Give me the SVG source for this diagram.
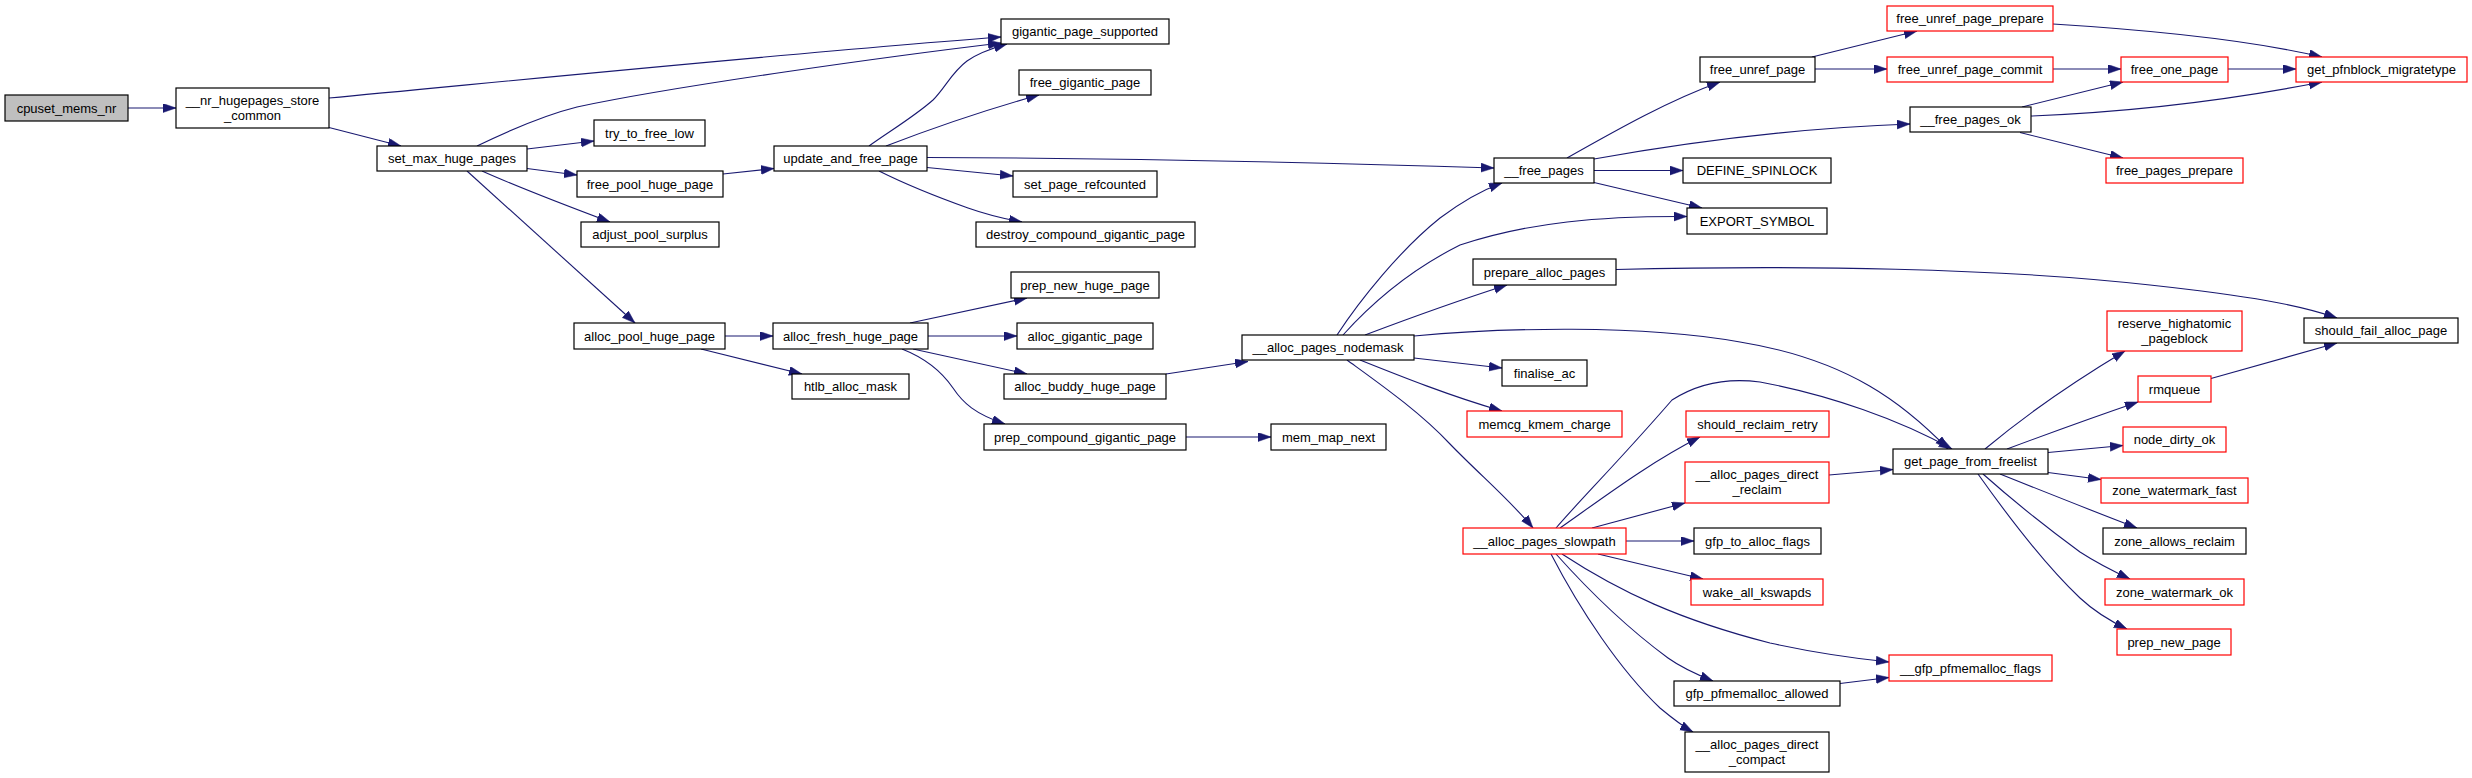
<svg xmlns="http://www.w3.org/2000/svg" width="2472" height="778" viewBox="0 0 2472 778">
<style>
.n rect{fill:#fff;stroke:#000;stroke-width:1.2}
.r rect{stroke:#f00}
.g rect{fill:#bfbfbf}
text{font-family:"Liberation Sans",Arial,sans-serif;font-size:13px;text-anchor:middle;fill:#000}
.e path{fill:none;stroke:#191970;stroke-width:1.1;marker-end:url(#a)}
</style>
<defs>
<marker id="a" markerUnits="userSpaceOnUse" markerWidth="14" markerHeight="10" refX="13" refY="4.5" orient="auto">
<path d="M0,0 L13,4.5 L0,9 z" fill="#191970" stroke="#191970" stroke-width="0.5"/>
</marker>
</defs>
<rect width="2472" height="778" fill="#fff"/>
<g id="edges" class="e">
<path d="M128,108 L176,108"/>
<path d="M329,98 C 500,82 800,52 1001,37"/>
<path d="M329,127.5 L401,146"/>
<path d="M477,146 C 510,130 545,115 577,107 C 680,85 900,55 1001,43"/>
<path d="M527,149 L594,141"/>
<path d="M527,168.5 L577,175"/>
<path d="M482,171 C 520,188 570,207 610,222"/>
<path d="M467,171 L635,323"/>
<path d="M723,174 L774,168.5"/>
<path d="M869,146 C 890,131 915,116 933,100 C 945,88 952,72 967,61 C 978,53 993,48 1007,44"/>
<path d="M886,146 C 925,131 985,110 1039,95"/>
<path d="M927,157.5 C 1100,158 1300,162 1494,168"/>
<path d="M927,167.5 L1013,176"/>
<path d="M879,171 C 905,184 940,198 968,208 C 985,214 1005,219 1022,222"/>
<path d="M725,336 L773,336"/>
<path d="M701,349 L802,374"/>
<path d="M910,323 L1027,298"/>
<path d="M928,336 L1017,336"/>
<path d="M913,349 L1027,374"/>
<path d="M902,349 C 925,358 942,372 953,388 C 963,403 975,414 1005,424"/>
<path d="M1186,437 L1271,437"/>
<path d="M1166,374 L1248,361.5"/>
<path d="M1337,335 C 1360,300 1400,250 1440,218 C 1460,203 1480,191 1502,183"/>
<path d="M1343,335 C 1370,305 1410,270 1460,245 C 1530,222 1600,216 1687,216.5"/>
<path d="M1594,182.5 L1702,208"/>
<path d="M1594,170.5 L1683,170.5"/>
<path d="M1594,159 C 1700,140 1800,128 1910,124"/>
<path d="M1567,158 C 1620,128 1670,100 1720,82"/>
<path d="M1812,57 L1917,31"/>
<path d="M1815,69 L1887,69"/>
<path d="M2053,24 C 2150,30 2250,40 2322,57"/>
<path d="M2053,69 L2121,69"/>
<path d="M2228,69 L2296,69"/>
<path d="M2022,107 L2123,82"/>
<path d="M2031,116 C 2130,112 2230,100 2322,82"/>
<path d="M2020,132.5 L2123,158"/>
<path d="M1365,335 C 1410,318 1460,300 1507,285"/>
<path d="M1616,269.5 C 1800,265 2000,268 2150,285 C 2250,296 2300,305 2337,318"/>
<path d="M1414,336 C 1500,328 1640,324 1740,342 C 1850,360 1905,405 1948,449"/>
<path d="M1414,358 L1502,368"/>
<path d="M1360,360 C 1400,376 1450,396 1502,411"/>
<path d="M1347,360 C 1380,384 1420,412 1450,444 C 1480,475 1510,500 1533,528"/>
<path d="M1556,528 C 1580,500 1620,460 1672,400 C 1700,382 1730,378 1760,382 C 1830,395 1900,420 1952,449"/>
<path d="M1560,528 C 1600,500 1650,462 1700,437"/>
<path d="M1592,528 L1685,503"/>
<path d="M1626,541 L1694,541"/>
<path d="M1598,554 L1703,579"/>
<path d="M1562,554 C 1620,592 1680,620 1770,643 C 1820,654 1860,659 1889,662"/>
<path d="M1556,554 C 1590,592 1630,630 1668,658 C 1682,668 1698,675 1713,681"/>
<path d="M1551,554 C 1580,610 1620,670 1660,708 C 1672,718 1682,726 1693,732"/>
<path d="M1829,475 L1893,469.5"/>
<path d="M1840,683.5 L1889,677.5"/>
<path d="M1985,449 C 2010,428 2060,390 2125,351"/>
<path d="M2007,449 C 2050,433 2100,415 2138,402"/>
<path d="M2048,452.5 L2123,445.5"/>
<path d="M2048,472.5 L2101,479.5"/>
<path d="M2000,474 C 2040,490 2090,510 2137,528"/>
<path d="M1983,474 C 2010,498 2050,530 2080,552 C 2100,565 2115,572 2130,579"/>
<path d="M1978,474 C 2000,505 2040,560 2080,598 C 2095,612 2110,621 2127,629"/>
<path d="M2211,378.5 L2337,343"/>
</g>
<g id="cpuset_mems_nr" class="n g"><rect x="5" y="95" width="123" height="26"/><text x="66.5" y="112.5">cpuset_mems_nr</text></g>
<g id="nr_hugepages_store_common" class="n"><rect x="176" y="88" width="153" height="40"/><text x="252.5" y="104.5">__nr_hugepages_store</text><text x="252.5" y="119.5">_common</text></g>
<g id="set_max_huge_pages" class="n"><rect x="377" y="146" width="150" height="25"/><text x="452" y="163">set_max_huge_pages</text></g>
<g id="gigantic_page_supported" class="n"><rect x="1001" y="19" width="168" height="25"/><text x="1085" y="36">gigantic_page_supported</text></g>
<g id="try_to_free_low" class="n"><rect x="594" y="120" width="111" height="26"/><text x="649.5" y="137.5">try_to_free_low</text></g>
<g id="free_pool_huge_page" class="n"><rect x="577" y="171" width="146" height="26"/><text x="650" y="188.5">free_pool_huge_page</text></g>
<g id="adjust_pool_surplus" class="n"><rect x="581" y="222" width="138" height="25"/><text x="650" y="239">adjust_pool_surplus</text></g>
<g id="alloc_pool_huge_page" class="n"><rect x="574" y="323" width="151" height="26"/><text x="649.5" y="340.5">alloc_pool_huge_page</text></g>
<g id="update_and_free_page" class="n"><rect x="774" y="146" width="153" height="25"/><text x="850.5" y="163">update_and_free_page</text></g>
<g id="free_gigantic_page" class="n"><rect x="1019" y="70" width="132" height="25"/><text x="1085" y="87">free_gigantic_page</text></g>
<g id="set_page_refcounted" class="n"><rect x="1013" y="171" width="144" height="26"/><text x="1085" y="188.5">set_page_refcounted</text></g>
<g id="destroy_compound_gigantic_page" class="n"><rect x="976" y="222" width="219" height="25"/><text x="1085.5" y="239">destroy_compound_gigantic_page</text></g>
<g id="alloc_fresh_huge_page" class="n"><rect x="773" y="323" width="155" height="26"/><text x="850.5" y="340.5">alloc_fresh_huge_page</text></g>
<g id="htlb_alloc_mask" class="n"><rect x="792" y="374" width="117" height="25"/><text x="850.5" y="391">htlb_alloc_mask</text></g>
<g id="prep_new_huge_page" class="n"><rect x="1011" y="272" width="148" height="26"/><text x="1085" y="289.5">prep_new_huge_page</text></g>
<g id="alloc_gigantic_page" class="n"><rect x="1017" y="323" width="136" height="26"/><text x="1085" y="340.5">alloc_gigantic_page</text></g>
<g id="alloc_buddy_huge_page" class="n"><rect x="1004" y="374" width="162" height="25"/><text x="1085" y="391">alloc_buddy_huge_page</text></g>
<g id="prep_compound_gigantic_page" class="n"><rect x="984" y="424" width="202" height="26"/><text x="1085" y="441.5">prep_compound_gigantic_page</text></g>
<g id="mem_map_next" class="n"><rect x="1271" y="424" width="115" height="26"/><text x="1328.5" y="441.5">mem_map_next</text></g>
<g id="alloc_pages_nodemask" class="n"><rect x="1242" y="335" width="172" height="25"/><text x="1328" y="352">__alloc_pages_nodemask</text></g>
<g id="free_pages" class="n"><rect x="1494" y="158" width="100" height="25"/><text x="1544" y="175">__free_pages</text></g>
<g id="free_unref_page" class="n"><rect x="1700" y="57" width="115" height="25"/><text x="1757.5" y="74">free_unref_page</text></g>
<g id="free_unref_page_prepare" class="n r"><rect x="1887" y="6" width="166" height="25"/><text x="1970" y="23">free_unref_page_prepare</text></g>
<g id="free_unref_page_commit" class="n r"><rect x="1887" y="57" width="166" height="25"/><text x="1970" y="74">free_unref_page_commit</text></g>
<g id="free_pages_ok" class="n"><rect x="1910" y="107" width="121" height="25"/><text x="1970.5" y="124">__free_pages_ok</text></g>
<g id="free_one_page" class="n r"><rect x="2121" y="57" width="107" height="25"/><text x="2174.5" y="74">free_one_page</text></g>
<g id="get_pfnblock_migratetype" class="n r"><rect x="2296" y="57" width="171" height="25"/><text x="2381.5" y="74">get_pfnblock_migratetype</text></g>
<g id="free_pages_prepare" class="n r"><rect x="2106" y="158" width="137" height="25"/><text x="2174.5" y="175">free_pages_prepare</text></g>
<g id="DEFINE_SPINLOCK" class="n"><rect x="1683" y="158" width="148" height="25"/><text x="1757" y="175">DEFINE_SPINLOCK</text></g>
<g id="EXPORT_SYMBOL" class="n"><rect x="1687" y="208" width="140" height="26"/><text x="1757" y="225.5">EXPORT_SYMBOL</text></g>
<g id="prepare_alloc_pages" class="n"><rect x="1473" y="259" width="143" height="26"/><text x="1544.5" y="276.5">prepare_alloc_pages</text></g>
<g id="should_fail_alloc_page" class="n"><rect x="2304" y="318" width="154" height="25"/><text x="2381" y="335">should_fail_alloc_page</text></g>
<g id="finalise_ac" class="n"><rect x="1502" y="360" width="85" height="26"/><text x="1544.5" y="377.5">finalise_ac</text></g>
<g id="memcg_kmem_charge" class="n r"><rect x="1467" y="411" width="155" height="26"/><text x="1544.5" y="428.5">memcg_kmem_charge</text></g>
<g id="alloc_pages_slowpath" class="n r"><rect x="1463" y="528" width="163" height="26"/><text x="1544.5" y="545.5">__alloc_pages_slowpath</text></g>
<g id="should_reclaim_retry" class="n r"><rect x="1686" y="411" width="143" height="26"/><text x="1757.5" y="428.5">should_reclaim_retry</text></g>
<g id="alloc_pages_direct_reclaim" class="n r"><rect x="1685" y="462" width="144" height="41"/><text x="1757" y="478.5">__alloc_pages_direct</text><text x="1757" y="493.5">_reclaim</text></g>
<g id="gfp_to_alloc_flags" class="n"><rect x="1694" y="528" width="127" height="26"/><text x="1757.5" y="545.5">gfp_to_alloc_flags</text></g>
<g id="wake_all_kswapds" class="n r"><rect x="1691" y="579" width="132" height="26"/><text x="1757" y="596.5">wake_all_kswapds</text></g>
<g id="gfp_pfmemalloc_flags" class="n r"><rect x="1889" y="655" width="163" height="26"/><text x="1970.5" y="672.5">__gfp_pfmemalloc_flags</text></g>
<g id="gfp_pfmemalloc_allowed" class="n"><rect x="1674" y="681" width="166" height="25"/><text x="1757" y="698">gfp_pfmemalloc_allowed</text></g>
<g id="alloc_pages_direct_compact" class="n"><rect x="1685" y="732" width="144" height="40"/><text x="1757" y="748.5">__alloc_pages_direct</text><text x="1757" y="763.5">_compact</text></g>
<g id="get_page_from_freelist" class="n"><rect x="1893" y="449" width="155" height="25"/><text x="1970.5" y="466">get_page_from_freelist</text></g>
<g id="reserve_highatomic_pageblock" class="n r"><rect x="2107" y="311" width="135" height="40"/><text x="2174.5" y="327.5">reserve_highatomic</text><text x="2174.5" y="342.5">_pageblock</text></g>
<g id="rmqueue" class="n r"><rect x="2138" y="376" width="73" height="26"/><text x="2174.5" y="393.5">rmqueue</text></g>
<g id="node_dirty_ok" class="n r"><rect x="2123" y="427" width="103" height="25"/><text x="2174.5" y="444">node_dirty_ok</text></g>
<g id="zone_watermark_fast" class="n r"><rect x="2101" y="478" width="147" height="25"/><text x="2174.5" y="495">zone_watermark_fast</text></g>
<g id="zone_allows_reclaim" class="n"><rect x="2103" y="528" width="143" height="26"/><text x="2174.5" y="545.5">zone_allows_reclaim</text></g>
<g id="zone_watermark_ok" class="n r"><rect x="2105" y="579" width="139" height="26"/><text x="2174.5" y="596.5">zone_watermark_ok</text></g>
<g id="prep_new_page" class="n r"><rect x="2117" y="629" width="114" height="26"/><text x="2174" y="646.5">prep_new_page</text></g>
</svg>
